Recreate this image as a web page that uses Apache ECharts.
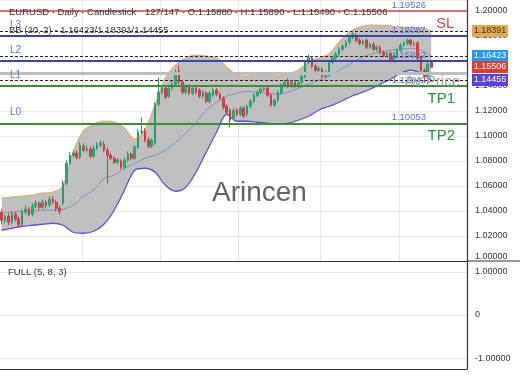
<!DOCTYPE html>
<html><head><meta charset="utf-8">
<script src="https://cdn.jsdelivr.net/npm/echarts@6/dist/echarts.min.js"></script>
<style>html,body{margin:0;padding:0;background:#fff}#c{width:520px;height:390px}</style>
</head><body><div id="c"></div>
<script>
// ---- data ----
const slotCount = 137;
const candleOpen = [1.0390,1.0326,1.0358,1.0310,1.0374,1.0334,1.0294,1.0390,1.0414,1.0374,
 1.0438,1.0462,1.0430,1.0470,1.0446,1.0494,1.0470,1.0422,1.0462,1.0622,
 1.0782,1.0846,1.0862,1.0830,1.0918,1.0886,1.0894,1.0838,1.0902,1.0926,
 1.0934,1.0886,1.0846,1.0822,1.0790,1.0798,1.0750,1.0806,1.0854,1.0822,
 1.0910,1.1030,1.1038,1.0966,1.0918,1.0942,1.1254,1.1350,1.1382,1.1318,
 1.1382,1.1414,1.1526,1.1430,1.1350,1.1398,1.1342,1.1382,1.1366,1.1318,
 1.1342,1.1278,1.1326,1.1366,1.1334,1.1302,1.1238,1.1206,1.1142,1.1206,
 1.1174,1.1222,1.1174,1.1238,1.1278,1.1326,1.1350,1.1374,1.1382,1.1326,
 1.1246,1.1286,1.1350,1.1406,1.1446,1.1398,1.1430,1.1398,1.1430,1.1478,
 1.1590,1.1622,1.1558,1.1526,1.1534,1.1478,1.1494,1.1590,1.1622,1.1654,
 1.1694,1.1718,1.1750,1.1790,1.1806,1.1766,1.1742,1.1766,1.1710,1.1734,
 1.1694,1.1710,1.1670,1.1646,1.1662,1.1606,1.1638,1.1686,1.1726,1.1742,
 1.1766,1.1734,1.1742,1.1622,1.1526,1.1478,1.15880];
const candleClose = [1.0326,1.0358,1.0310,1.0374,1.0334,1.0294,1.0390,1.0414,1.0374,1.0438,
 1.0462,1.0430,1.0470,1.0446,1.0494,1.0470,1.0422,1.0398,1.0622,1.0782,
 1.0846,1.0862,1.0830,1.0926,1.0886,1.0902,1.0838,1.0902,1.0926,1.0942,
 1.0886,1.0846,1.0822,1.0790,1.0806,1.0750,1.0806,1.0854,1.0822,1.0910,
 1.1030,1.1038,1.0966,1.0918,1.0966,1.1254,1.1350,1.1382,1.1310,1.1382,
 1.1414,1.1510,1.1430,1.1350,1.1398,1.1342,1.1382,1.1350,1.1318,1.1350,
 1.1278,1.1342,1.1366,1.1334,1.1302,1.1230,1.1190,1.1126,1.1206,1.1174,
 1.1222,1.1158,1.1238,1.1278,1.1326,1.1350,1.1374,1.1382,1.1326,1.1246,
 1.1286,1.1350,1.1406,1.1430,1.1398,1.1430,1.1398,1.1422,1.1478,1.1590,
 1.1630,1.1558,1.1526,1.1542,1.1478,1.1510,1.1590,1.1622,1.1654,1.1694,
 1.1718,1.1750,1.1790,1.1814,1.1766,1.1742,1.1758,1.1710,1.1734,1.1694,
 1.1710,1.1670,1.1646,1.1662,1.1606,1.1638,1.1686,1.1726,1.1742,1.1766,
 1.1734,1.1742,1.1622,1.1526,1.1478,1.1574,1.15506];
const candleLow = [1.0294,1.0302,1.0286,1.0294,1.0318,1.0270,1.0278,1.0374,1.0358,1.0358,
 1.0422,1.0406,1.0414,1.0422,1.0430,1.0454,1.0398,1.0374,1.0446,1.0606,
 1.0766,1.0830,1.0814,1.0814,1.0870,1.0870,1.0822,1.0822,1.0886,1.0910,
 1.0870,1.0622,1.0806,1.0774,1.0774,1.0734,1.0734,1.0790,1.0806,1.0806,
 1.0894,1.1014,1.0950,1.0902,1.0902,1.0926,1.1238,1.1334,1.1294,1.1302,
 1.1366,1.1398,1.1414,1.1334,1.1334,1.1326,1.1326,1.1334,1.1302,1.1302,
 1.1262,1.1262,1.1310,1.1318,1.1286,1.1214,1.1174,1.1070,1.1126,1.1158,
 1.1158,1.1142,1.1158,1.1222,1.1262,1.1310,1.1334,1.1358,1.1310,1.1230,
 1.1230,1.1270,1.1334,1.1390,1.1382,1.1382,1.1382,1.1382,1.1414,1.1462,
 1.1574,1.1542,1.1510,1.1510,1.1462,1.1462,1.1478,1.1574,1.1606,1.1638,
 1.1678,1.1702,1.1734,1.1774,1.1750,1.1726,1.1726,1.1694,1.1694,1.1678,
 1.1678,1.1654,1.1630,1.1630,1.1590,1.1590,1.1622,1.1670,1.1710,1.1726,
 1.1718,1.1718,1.1606,1.1510,1.1430,1.1462,1.15490];
const candleHigh = [1.0414,1.0374,1.0382,1.0398,1.0390,1.0358,1.0414,1.0446,1.0430,1.0462,
 1.0486,1.0478,1.0494,1.0486,1.0518,1.0518,1.0486,1.0446,1.0646,1.0806,
 1.0870,1.0886,1.0886,1.0950,1.0942,1.0926,1.0918,1.0926,1.0950,1.0966,
 1.0958,1.0910,1.0862,1.0838,1.0822,1.0814,1.0830,1.0878,1.0870,1.0926,
 1.1054,1.1150,1.1062,1.0990,1.0982,1.1270,1.1470,1.1406,1.1398,1.1406,
 1.1438,1.1534,1.1566,1.1446,1.1414,1.1414,1.1398,1.1398,1.1382,1.1366,
 1.1358,1.1358,1.1382,1.1382,1.1350,1.1318,1.1254,1.1222,1.1222,1.1222,
 1.1238,1.1238,1.1254,1.1294,1.1342,1.1366,1.1390,1.1398,1.1398,1.1342,
 1.1302,1.1366,1.1422,1.1446,1.1462,1.1446,1.1446,1.1446,1.1494,1.1606,
 1.1654,1.1638,1.1574,1.1558,1.1550,1.1526,1.1606,1.1638,1.1670,1.1710,
 1.1734,1.1766,1.1806,1.1838,1.1822,1.1782,1.1774,1.1782,1.1750,1.1750,
 1.1726,1.1726,1.1686,1.1678,1.1678,1.1654,1.1702,1.1742,1.1758,1.1782,
 1.1782,1.1758,1.1758,1.1638,1.1542,1.1606,1.15890];

// Bollinger band readings (every 3rd bar)
const bbIndex = [0,3,6,9,12,15,18,21,24,27,30,33,36,39,42,45,48,51,54,57,60,63,66,69,72,75,78,81,84,87,90,93,96,99,102,105,108,111,114,117,120,123,126];
const bbUpper = [1.0502,1.0510,1.0518,1.0526,1.0542,1.0550,1.0598,1.0870,1.1038,1.1094,
 1.1118,1.1110,1.1062,1.0974,1.1046,1.1246,1.1462,1.1566,1.1622,1.1646,
 1.1638,1.1622,1.1550,1.1486,1.1478,1.1494,1.1494,1.1478,1.1494,1.1526,
 1.1590,1.1622,1.1654,1.1750,1.1830,1.1870,1.1886,1.1886,1.1878,1.1870,
 1.1870,1.1862,1.18391];
const bbMiddle = [1.0390,1.0390,1.0398,1.0398,1.0406,1.0406,1.0414,1.0446,1.0518,1.0566,
 1.0662,1.0686,1.0742,1.0782,1.0822,1.0846,1.0886,1.0950,1.1022,1.1110,
 1.1206,1.1270,1.1318,1.1342,1.1358,1.1350,1.1342,1.1334,1.1350,1.1382,
 1.1414,1.1446,1.1478,1.1526,1.1574,1.1622,1.1654,1.1670,1.1686,1.1694,
 1.1702,1.1686,1.16423];
const bbLower = [1.0246,1.0262,1.0278,1.0286,1.0294,1.0302,1.0286,1.0230,1.0222,1.0238,
 1.0294,1.0406,1.0566,1.0726,1.0742,1.0710,1.0606,1.0558,1.0590,1.0710,
 1.0870,1.1030,1.1174,1.1118,1.1118,1.1110,1.1102,1.1094,1.1102,1.1126,
 1.1158,1.1206,1.1238,1.1270,1.1310,1.1342,1.1374,1.1414,1.1454,1.1502,
 1.1526,1.1502,1.14455];

// horizontal levels
const slLevel = 1.19526;
const bbLevels = [1.18391, 1.16423, 1.14455];
const lLevels = [1.18087, 1.1584, 1.1384, 1.1098];
const lNames = ['L3', 'L2', 'L1', 'L0'];
const lValueText = ['1.18087', '1.15842', '1.13842', '1.10053'];
const tpLevels = [1.1362, 1.1083];
const tpNames = ['TP1', 'TP2'];
const avgPriceLevel = 1.1544;
const badgeValues = [1.18391, 1.16423, 1.15506, 1.14455];
const badgeColors = ['#e2aa50', '#2196f3', '#e53935', '#5b3fd9'];
const badgeText = ['#333', '#fff', '#fff', '#fff'];
const vGridIdx = [24, 47, 70, 94, 117];
const oscTicks = [-1, 0, 1];

// ---- build options ----
const categories = [];
for (let i = 0; i < slotCount; i++) categories.push(String(i + 1));
const candles = candleOpen.map((o, i) => [o, candleClose[i], candleLow[i], candleHigh[i]]);
const pairs = arr => bbIndex.map((ix, k) => [ix, arr[k]]);
const bandDiff = bbIndex.map((ix, k) => [ix, +(bbUpper[k] - bbLower[k]).toFixed(5)]);

const FONT = '"Liberation Sans", Arial, sans-serif';
const CLEAR = 'rgba(0,0,0,0)';

const levelLines = [];
levelLines.push({ yAxis: slLevel, lineStyle: { color: '#d64545', width: 1.5, type: 'solid' },
  label: { show: true, position: 'insideEndBottom', formatter: 'SL', color: '#e03a4a', fontSize: 14.5, fontFamily: FONT, distance: 5, padding: [0, 8, 0, 0] } });
levelLines.push({ yAxis: slLevel, lineStyle: { color: CLEAR, width: 0 },
  label: { show: true, position: 'insideEndTop', formatter: '1.19526', color: '#5577d0', fontSize: 9.5, fontFamily: FONT, distance: 1, padding: [0, 40, 0, 0] } });
lLevels.forEach((v, k) => {
  levelLines.push({ yAxis: v, lineStyle: { color: '#3b45a8', width: 2, type: 'solid' },
    label: { show: true, position: 'insideStartTop', formatter: lNames[k], color: '#5a7bd0', fontSize: 10, fontFamily: FONT, distance: 6, padding: [0, 0, 0, 4] } });
  levelLines.push({ yAxis: v, lineStyle: { color: CLEAR, width: 0 },
    label: { show: true, position: 'insideEndTop', formatter: lValueText[k], color: '#5577d0', fontSize: 9.5, fontFamily: FONT, distance: 1, padding: [0, 40, 0, 0] } });
});
tpLevels.forEach((v, k) => levelLines.push({ yAxis: v, lineStyle: { color: '#3c8c3c', width: 1.8, type: 'solid' },
  label: { show: true, position: 'insideEndBottom', formatter: tpNames[k], color: '#2e8b3a', fontSize: 15, fontFamily: FONT, distance: 5, padding: [0, 7, 0, 0] } }));
levelLines.push({ yAxis: avgPriceLevel, lineStyle: { color: '#bdbdbd', width: 3, type: 'solid' },
  label: { show: true, position: 'insideEndBottom', formatter: 'Av Price', color: '#9c9c9c', fontSize: 15, fontFamily: FONT, distance: 1, padding: [0, 6, 0, 0] } });

const option = {
  animation: false,
  backgroundColor: '#fff',
  textStyle: { fontFamily: FONT },
  grid: [
    { left: 0, right: 53, top: 0, height: 261 },
    { left: 0, right: 53, top: 261, height: 108 }
  ],
  xAxis: [
    { type: 'category', gridIndex: 0, data: categories, boundaryGap: true,
      axisLine: { show: true, onZero: false, lineStyle: { color: '#333', width: 1 } },
      axisTick: { show: false }, axisLabel: { show: false },
      splitLine: { show: true, interval: (i) => vGridIdx.includes(i), lineStyle: { color: '#e6e6e6', width: 1 } } },
    { type: 'category', gridIndex: 1, data: categories, boundaryGap: true,
      axisLine: { show: true, onZero: false, lineStyle: { color: '#333', width: 1.2 } },
      axisTick: { show: false }, axisLabel: { show: false }, splitLine: { show: false } }
  ],
  yAxis: [
    { type: 'value', gridIndex: 0, position: 'right', min: 1.00, max: 1.2088, interval: 0.02,
      axisLine: { show: true, lineStyle: { color: '#333', width: 1.2 } }, axisTick: { show: false },
      axisLabel: { color: '#333', fontSize: 9, margin: 8, fontFamily: FONT, formatter: v => v.toFixed(5),
        showMaxLabel: false, verticalAlignMinLabel: 'bottom' },
      splitLine: { show: true, lineStyle: { color: '#e9e9e9', width: 1 } } },
    { type: 'value', gridIndex: 1, position: 'right', min: -1.25, max: 1.25, interval: 0.25,
      axisLine: { show: true, lineStyle: { color: '#333', width: 1.2 } }, axisTick: { show: false },
      axisLabel: { color: '#333', fontSize: 9, margin: 8, fontFamily: FONT,
        formatter: v => (Math.abs(v) < 1e-9 ? '0' : (oscTicks.includes(Math.round(v * 100) / 100) ? v.toFixed(5) : '')) },
      splitLine: { show: false } }
  ],
  series: [
    { type: 'line', name: 'bbBase', data: pairs(bbLower), stack: 'bb', smooth: 0.3, symbol: 'none',
      lineStyle: { opacity: 0 }, z: 1, silent: true },
    { type: 'line', name: 'bbFill', data: bandDiff, stack: 'bb', smooth: 0.3, symbol: 'none',
      lineStyle: { opacity: 0 }, areaStyle: { color: '#c0c0c0', opacity: 1 }, z: 1, silent: true },
    { type: 'line', name: 'bbUpper', data: pairs(bbUpper), smooth: 0.3, symbol: 'none',
      lineStyle: { color: '#d8b27c', width: 1.6 }, z: 2, silent: true },
    { type: 'line', name: 'bbLower', data: pairs(bbLower), smooth: 0.3, symbol: 'none',
      lineStyle: { color: '#5d52c9', width: 1.3 }, z: 2, silent: true },
    { type: 'line', name: 'bbMiddle', data: pairs(bbMiddle), smooth: 0.3, symbol: 'none',
      lineStyle: { color: '#7895b5', width: 1 }, z: 2, silent: true },
    { type: 'line', name: 'levels', data: [], symbol: 'none', z: 3, silent: true, clip: false,
      markLine: { silent: true, symbol: ['none', 'none'], animation: false, data: levelLines } },
    { type: 'candlestick', name: 'EURUSD', data: candles, barWidth: '62%', z: 4,
      itemStyle: { color: '#2bb47c', color0: '#e0444c', borderColor: '#2a9a6c', borderColor0: '#c83a42', borderWidth: 1 } }
  ],
  graphic: [
    { type: 'text', left: 9, top: 7, z: 100, style: { text: 'EURUSD - Daily - Candlestick', fill: '#333', font: '9.5px ' + FONT } },
    { type: 'text', left: 145, top: 7, z: 100, style: { text: '127/147 - O:1.15880 - H:1.15890 - L:1.15490 - C:1.15506', fill: '#333', font: '9.5px ' + FONT } },
    { type: 'text', left: 9, top: 25, z: 100, style: { text: 'BB (20, 2) - 1.16423/1.18391/1.14455', fill: '#333', font: '9.5px ' + FONT } },
    { type: 'text', left: 8, top: 267, z: 100, style: { text: 'FULL (5, 8, 3)', fill: '#333', font: '9.5px ' + FONT } },
    { type: 'text', left: 212, top: 179, z: 100, style: { text: 'Arincen', fill: 'rgba(70,70,70,0.85)', font: '28px ' + FONT } },
    { type: 'line', z: 100, shape: { x1: 467, y1: 261, x2: 520, y2: 261 }, style: { stroke: '#333', lineWidth: 1 } }
  ]
};
const chart = echarts.init(document.getElementById('c'), null, { renderer: 'canvas' });
chart.setOption(option);

// level lines, oscillator grid lines and price badges placed through the axis scales
const gridRect = chart.getModel().getComponent('grid', 0).coordinateSystem.getRect();
const x0 = gridRect.x, x1 = gridRect.x + gridRect.width;
const extra = [];
bbLevels.forEach(v => {
  const y = Math.round(chart.convertToPixel({ yAxisIndex: 0 }, v)) + 0.5;
  extra.push({ type: 'line', z: 3, silent: true, shape: { x1: x0, y1: y, x2: x1, y2: y },
    style: { stroke: '#222', lineWidth: 1, lineDash: [3, 2] } });
});
oscTicks.forEach(v => {
  const y = Math.round(chart.convertToPixel({ yAxisIndex: 1 }, v)) + 0.5;
  extra.push({ type: 'line', z: 0, silent: true, shape: { x1: x0, y1: y, x2: x1, y2: y },
    style: { stroke: '#e4e4e4', lineWidth: 1 } });
});
badgeValues.forEach((v, k) => {
  const y = Math.round(chart.convertToPixel({ yAxisIndex: 0 }, v));
  extra.push({ type: 'rect', z: 200, shape: { x: x1 + 5, y: y - 6, width: 36, height: 12 }, style: { fill: badgeColors[k] } });
  extra.push({ type: 'text', z: 201, x: x1 + 23, y: y, style: { text: v.toFixed(5), fill: badgeText[k],
    font: '9px ' + FONT, align: 'center', verticalAlign: 'middle' } });
});
chart.setOption({ graphic: option.graphic.concat(extra) });
</script></body></html>
